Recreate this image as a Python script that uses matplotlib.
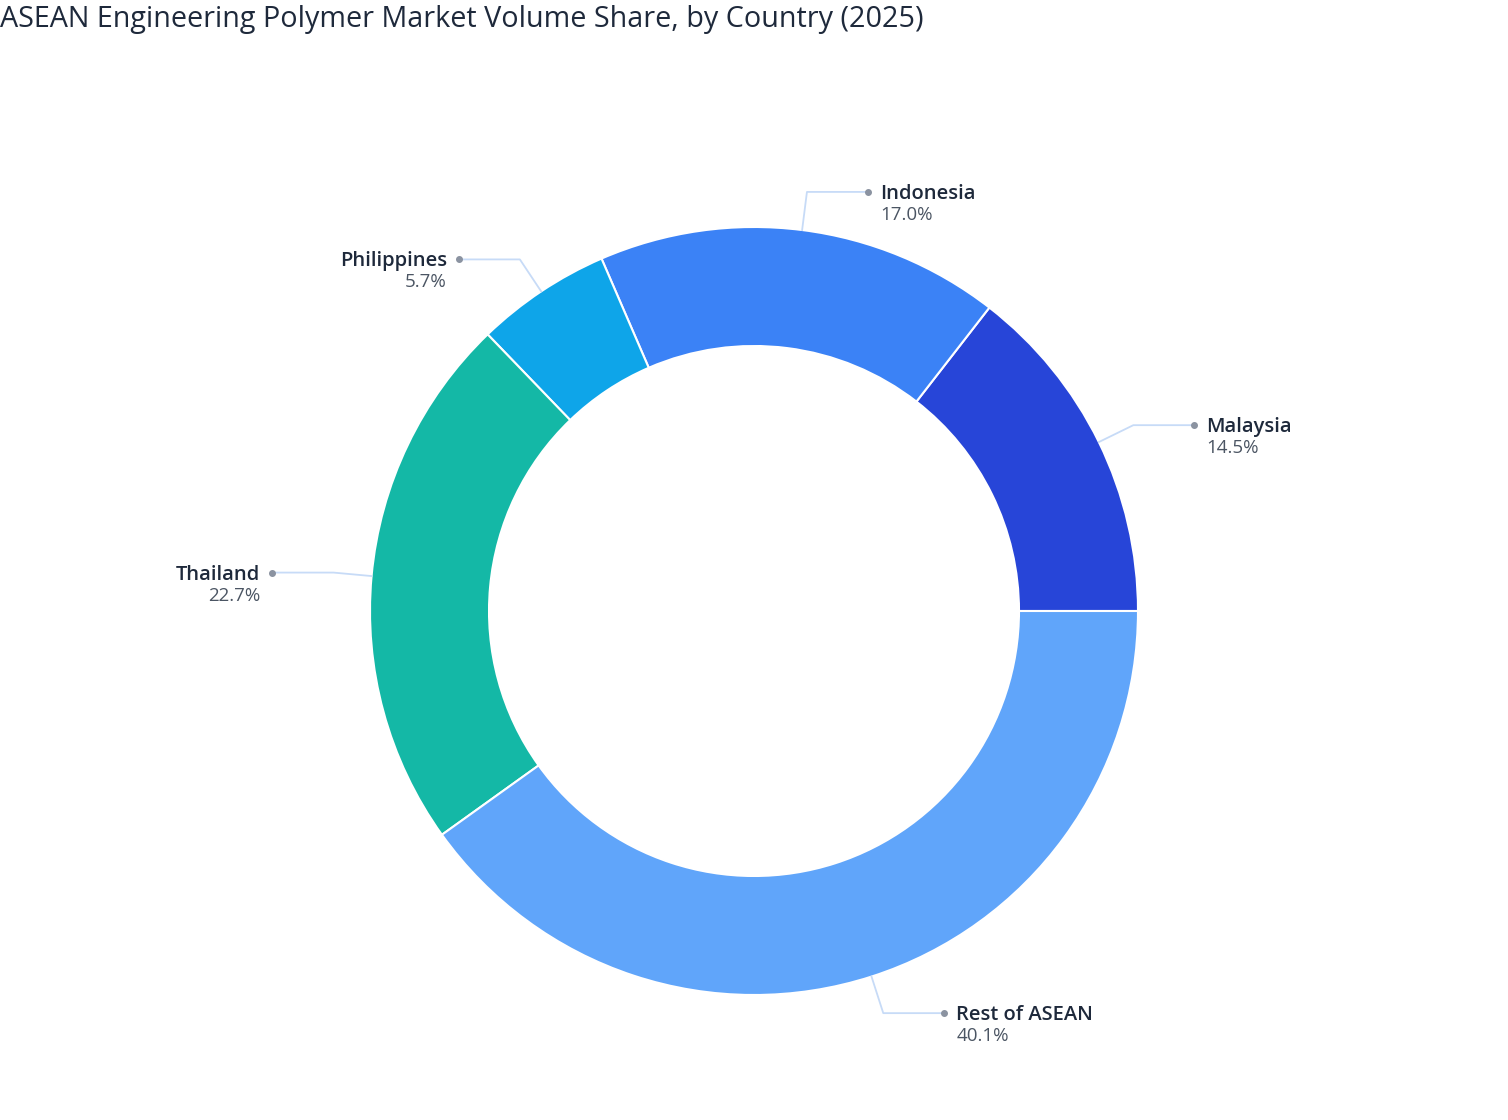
import numpy as np
import matplotlib.pyplot as plt

plt.rcParams["font.family"] = ["Open Sans", "DejaVu Sans"]

# >>>>>>>>>>>>>> data
countries = ["Malaysia", "Indonesia", "Philippines", "Thailand", "Rest of ASEAN"]
shares = [14.5, 17.0, 5.7, 22.7, 40.1]
colors = ["#2745d8", "#3b82f6", "#0ea5e9", "#14b8a6", "#60a5fa"]
title = "ASEAN Engineering Polymer Market Volume Share, by Country (2025)"

# >>>>>>>>>>>>>> plotting (axes in pixel units, y up)
W, H = 1508, 1120
fig = plt.figure(figsize=(W / 100, H / 100), dpi=100)
ax = fig.add_axes([0, 0, 1, 1])

cx, cy, R = 754, H - 611, 384
wedges, _ = ax.pie(shares, colors=colors, startangle=0, counterclock=True,
                   center=(cx, cy), radius=R, frame=True,
                   wedgeprops=dict(width=119, edgecolor="white", linewidth=1.5))
ax.set_xlim(0, W)
ax.set_ylim(0, H)
ax.set_aspect("equal")
ax.axis("off")

# leader lines + labels
for w, name, val in zip(wedges, countries, shares):
    ang = np.deg2rad((w.theta1 + w.theta2) / 2)
    x0, y0 = cx + R * np.cos(ang), cy + R * np.sin(ang)
    x1, y1 = cx + 1.1 * R * np.cos(ang), cy + 1.1 * R * np.sin(ang)
    side = 1 if np.cos(ang) >= 0 else -1
    x2 = x1 + side * 61
    ax.plot([x0, x1, x2], [y0, y1, y1], color="#c7dbf7", lw=1.3, zorder=1)
    ax.plot(x2, y1, "o", color="#8b93a1", ms=4, zorder=2)
    ha = "left" if side > 0 else "right"
    tx = x2 + side * 12
    ax.text(tx, y1 - 2, name, ha=ha, va="center", fontsize=14.5,
            fontweight="semibold", color="#1e293b")
    ax.text(tx, y1 - 23, f"{val:.1f}%", ha=ha, va="center", fontsize=13.5,
            color="#4b5563")

fig.text(0, 1 - 19 / H, title, ha="left", va="center", fontsize=20.7,
         fontweight="medium", color="#1e293b")

fig.savefig("out.png", dpi=100)
